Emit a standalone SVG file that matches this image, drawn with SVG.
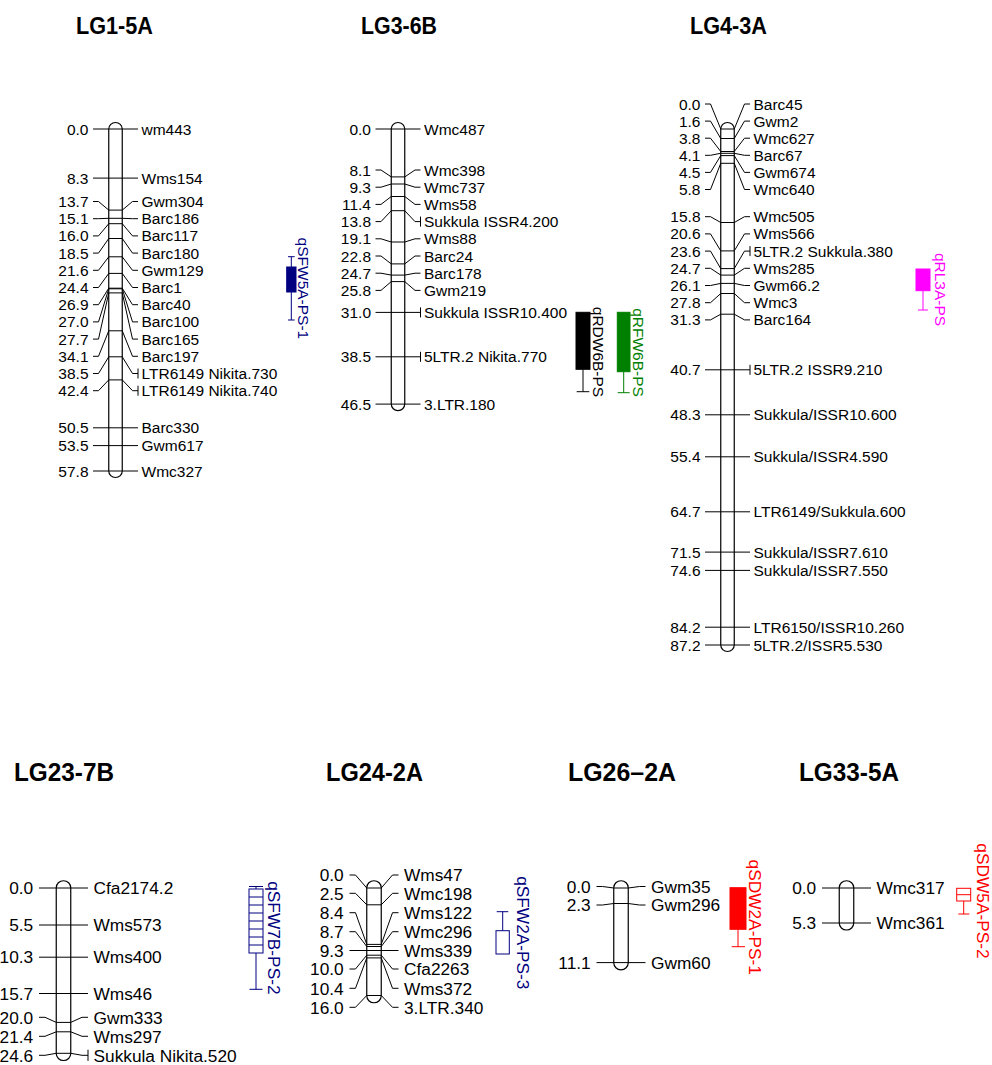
<svg xmlns="http://www.w3.org/2000/svg" width="992" height="1065" viewBox="0 0 992 1065">
<style>
text{font-family:"Liberation Sans",Arial,sans-serif;fill:#000}
.t{font-size:15.5px}
.b{font-size:17.3px}
.n{text-anchor:end}
.ttl{font-weight:bold;text-anchor:middle}
.ln{stroke:#000;stroke-width:1;fill:none}
.chr{stroke:#000;stroke-width:1.2;fill:#fff}
.q{text-anchor:middle}
</style>
<rect width="992" height="1065" fill="#fff"/>

<g id="lg1">
<text class="ttl" x="114.5" y="34.2" font-size="23" textLength="77" lengthAdjust="spacingAndGlyphs">LG1-5A</text>
<rect class="chr" x="108.75" y="122.5" width="13.5" height="355" rx="6.75" ry="6.5"/>
<g class="connectors ln" id="lg1-links">
<path d="M93,129H138M93,178.1H138M93,201.5H98.5L108.75,210.1H122.25L132.5,201.5H138M93,218.7H98.5L108.75,218.3H122.25L132.5,218.7H138M93,235.9H98.5L108.75,223.7H122.25L132.5,235.9H138M93,253.1H98.5L108.75,238.5H122.25L132.5,253.1H138M93,270.3H98.5L108.75,256.8H122.25L132.5,270.3H138M93,287.5H98.5L108.75,273.4H122.25L132.5,287.5H138M93,304.7H98.5L108.75,288.2H122.25L132.5,304.7H138M93,321.9H98.5L108.75,288.8H122.25L132.5,321.9H138M93,339.1H98.5L108.75,292.9H122.25L132.5,339.1H138M93,356.3H98.5L108.75,330.8H122.25L132.5,356.3H138M93,373.5H98.5L108.75,356.8H122.25L132.5,373.5H138M138,368.5V378.5M93,390.7H98.5L108.75,379.9H122.25L132.5,390.7H138M138,385.7V395.7M93,427.8H138M93,445.6H138M93,471H138"/>
</g>
<g class="t n">
<text x="88.5" y="134.5">0.0</text><text x="88.5" y="183.6">8.3</text><text x="88.5" y="207">13.7</text><text x="88.5" y="224.2">15.1</text><text x="88.5" y="241.4">16.0</text><text x="88.5" y="258.6">18.5</text><text x="88.5" y="275.8">21.6</text><text x="88.5" y="293">24.4</text><text x="88.5" y="310.2">26.9</text><text x="88.5" y="327.4">27.0</text><text x="88.5" y="344.6">27.7</text><text x="88.5" y="361.8">34.1</text><text x="88.5" y="379">38.5</text><text x="88.5" y="396.2">42.4</text><text x="88.5" y="433.3">50.5</text><text x="88.5" y="451.1">53.5</text><text x="88.5" y="476.5">57.8</text>
</g>
<g class="t">
<text x="141.5" y="134.5">wm443</text><text x="141.5" y="183.6">Wms154</text><text x="141.5" y="207">Gwm304</text><text x="141.5" y="224.2">Barc186</text><text x="141.5" y="241.4">Barc117</text><text x="141.5" y="258.6">Barc180</text><text x="141.5" y="275.8">Gwm129</text><text x="141.5" y="293">Barc1</text><text x="141.5" y="310.2">Barc40</text><text x="141.5" y="327.4">Barc100</text><text x="141.5" y="344.6">Barc165</text><text x="141.5" y="361.8">Barc197</text><text x="141.5" y="379">LTR6149 Nikita.730</text><text x="141.5" y="396.2">LTR6149 Nikita.740</text><text x="141.5" y="433.3">Barc330</text><text x="141.5" y="451.1">Gwm617</text><text x="141.5" y="476.5">Wmc327</text>
</g>
</g>

<g id="qtl-qSFW5A-PS-1">
<path d="M291.3,256.7V320M288,256.7H294.7M288,320H294.7" stroke="#000080" fill="none"/>
<rect x="286.7" y="267" width="9.3" height="25" fill="#000080" stroke="#000080"/>
<text class="t q" x="298.3" y="288.4" transform="rotate(90 298.3 288.4)" style="fill:#000080">qSFW5A-PS-1</text>
</g>

<g id="lg3">
<text class="ttl" x="399" y="34.2" font-size="23" textLength="76" lengthAdjust="spacingAndGlyphs">LG3-6B</text>
<rect class="chr" x="391.25" y="122.5" width="13.5" height="288.1" rx="6.75" ry="6.5"/>
<g class="connectors ln" id="lg3-links">
<path d="M375.5,129H420.5M375.5,170H381L391.25,176.9H404.75L415,170H420.5M375.5,187.2H381L391.25,184H404.75L415,187.2H420.5M375.5,204.4H381L391.25,196.5H404.75L415,204.4H420.5M375.5,221.6H381L391.25,210.7H404.75L415,221.6H420.5M420.5,216.6V226.6M375.5,238.8H381L391.25,242H404.75L415,238.8H420.5M375.5,256H381L391.25,263.9H404.75L415,256H420.5M375.5,273.2H381L391.25,275.1H404.75L415,273.2H420.5M375.5,290.4H381L391.25,281.6H404.75L415,290.4H420.5M375.5,312.4H420.5M420.5,307.4V317.4M375.5,356.8H420.5M420.5,351.8V361.8M375.5,404.1H420.5"/>
</g>
<g class="t n">
<text x="371" y="134.5">0.0</text><text x="371" y="175.5">8.1</text><text x="371" y="192.7">9.3</text><text x="371" y="209.9">11.4</text><text x="371" y="227.1">13.8</text><text x="371" y="244.3">19.1</text><text x="371" y="261.5">22.8</text><text x="371" y="278.7">24.7</text><text x="371" y="295.9">25.8</text><text x="371" y="317.9">31.0</text><text x="371" y="362.3">38.5</text><text x="371" y="409.6">46.5</text>
</g>
<g class="t">
<text x="424" y="134.5">Wmc487</text><text x="424" y="175.5">Wmc398</text><text x="424" y="192.7">Wmc737</text><text x="424" y="209.9">Wms58</text><text x="424" y="227.1">Sukkula ISSR4.200</text><text x="424" y="244.3">Wms88</text><text x="424" y="261.5">Barc24</text><text x="424" y="278.7">Barc178</text><text x="424" y="295.9">Gwm219</text><text x="424" y="317.9">Sukkula ISSR10.400</text><text x="424" y="362.3">5LTR.2 Nikita.770</text><text x="424" y="409.6">3.LTR.180</text>
</g>
</g>

<g id="qtl-qRDW6B-PS">
<path d="M583,369.3V391.7M576.7,391.7H589.3" stroke="#000" fill="none"/>
<rect x="576" y="312.3" width="14" height="57" fill="#000" stroke="#000"/>
<text class="t q" x="593.3" y="352" transform="rotate(90 593.3 352)">qRDW6B-PS</text>
</g>
<g id="qtl-qRFW6B-PS">
<path d="M623.7,371.7V392.7M617.7,392.7H629.7" stroke="#008000" fill="none"/>
<rect x="617.3" y="312.3" width="12.7" height="59.4" fill="#008000" stroke="#008000"/>
<text class="t q" x="632.7" y="352.5" transform="rotate(90 632.7 352.5)" style="fill:#008000">qRFW6B-PS</text>
</g>

<g id="lg4">
<text class="ttl" x="728.5" y="34.2" font-size="23" textLength="77" lengthAdjust="spacingAndGlyphs">LG4-3A</text>
<rect class="chr" x="720.75" y="122.5" width="13.5" height="529" rx="6.75" ry="6.5"/>
<g class="connectors ln" id="lg4-links">
<path d="M705,104H710.5L720.75,129H734.25L744.5,104H750M705,121.1H710.5L720.75,138.5H734.25L744.5,121.1H750M705,138.2H710.5L720.75,151.5H734.25L744.5,138.2H750M705,155.3H710.5L720.75,153.3H734.25L744.5,155.3H750M705,172.4H710.5L720.75,155.6H734.25L744.5,172.4H750M705,189.5H710.5L720.75,163.3H734.25L744.5,189.5H750M705,216.7H710.5L720.75,222.5H734.25L744.5,216.7H750M705,233.9H710.5L720.75,250.9H734.25L744.5,233.9H750M705,251.1H710.5L720.75,268.6H734.25L744.5,251.1H750M750,246.1V256.1M705,268.3H710.5L720.75,275.1H734.25L744.5,268.3H750M705,285.5H710.5L720.75,283.4H734.25L744.5,285.5H750M705,302.7H710.5L720.75,293.5H734.25L744.5,302.7H750M705,319.9H710.5L720.75,314.2H734.25L744.5,319.9H750M705,369.8H750M750,364.8V374.8M705,414.8H750M705,456.8H750M705,511.8H750M705,552.1H750M705,570.4H750M705,627.2H750M705,645H750"/>
</g>
<g class="t n">
<text x="700.5" y="109.5">0.0</text><text x="700.5" y="126.6">1.6</text><text x="700.5" y="143.7">3.8</text><text x="700.5" y="160.8">4.1</text><text x="700.5" y="177.9">4.5</text><text x="700.5" y="195">5.8</text><text x="700.5" y="222.2">15.8</text><text x="700.5" y="239.4">20.6</text><text x="700.5" y="256.6">23.6</text><text x="700.5" y="273.8">24.7</text><text x="700.5" y="291">26.1</text><text x="700.5" y="308.2">27.8</text><text x="700.5" y="325.4">31.3</text><text x="700.5" y="375.3">40.7</text><text x="700.5" y="420.3">48.3</text><text x="700.5" y="462.3">55.4</text><text x="700.5" y="517.3">64.7</text><text x="700.5" y="557.6">71.5</text><text x="700.5" y="575.9">74.6</text><text x="700.5" y="632.7">84.2</text><text x="700.5" y="650.5">87.2</text>
</g>
<g class="t">
<text x="753.5" y="109.5">Barc45</text><text x="753.5" y="126.6">Gwm2</text><text x="753.5" y="143.7">Wmc627</text><text x="753.5" y="160.8">Barc67</text><text x="753.5" y="177.9">Gwm674</text><text x="753.5" y="195">Wmc640</text><text x="753.5" y="222.2">Wmc505</text><text x="753.5" y="239.4">Wms566</text><text x="753.5" y="256.6">5LTR.2 Sukkula.380</text><text x="753.5" y="273.8">Wms285</text><text x="753.5" y="291">Gwm66.2</text><text x="753.5" y="308.2">Wmc3</text><text x="753.5" y="325.4">Barc164</text><text x="753.5" y="375.3">5LTR.2 ISSR9.210</text><text x="753.5" y="420.3">Sukkula/ISSR10.600</text><text x="753.5" y="462.3">Sukkula/ISSR4.590</text><text x="753.5" y="517.3">LTR6149/Sukkula.600</text><text x="753.5" y="557.6">Sukkula/ISSR7.610</text><text x="753.5" y="575.9">Sukkula/ISSR7.550</text><text x="753.5" y="632.7">LTR6150/ISSR10.260</text><text x="753.5" y="650.5">5LTR.2/ISSR5.530</text>
</g>
</g>

<g id="qtl-qRL3A-PS">
<path d="M923,290.7V310M918,310H928" stroke="#FF00FF" fill="none"/>
<rect x="916" y="269" width="14" height="21.7" fill="#FF00FF" stroke="#FF00FF"/>
<text class="t q" x="935" y="289.5" transform="rotate(90 935 289.5)" style="fill:#FF00FF">qRL3A-PS</text>
</g>

<g id="lg23">
<text class="ttl" x="64" y="781.3" font-size="26" textLength="100" lengthAdjust="spacingAndGlyphs">LG23-7B</text>
<rect class="chr" x="56.25" y="880.75" width="14.5" height="179.75" rx="7.25" ry="7"/>
<g class="connectors ln" id="lg23-links">
<path d="M39,888H88M39,925H88M39,957.2H88M39,993.5H88M39,1017.3H45L56.25,1022.4H70.75L82,1017.3H88M39,1036.3H45L56.25,1031.8H70.75L82,1036.3H88M39,1055.3H45L56.25,1053.3H70.75L82,1055.3H88M88,1049.7V1060.9"/>
</g>
<g class="b n">
<text x="33.2" y="894.2">0.0</text><text x="33.2" y="931.2">5.5</text><text x="33.2" y="963.4">10.3</text><text x="33.2" y="999.7">15.7</text><text x="33.2" y="1023.5">20.0</text><text x="33.2" y="1042.5">21.4</text><text x="33.2" y="1061.5">24.6</text>
</g>
<g class="b">
<text x="93.5" y="894.2">Cfa2174.2</text><text x="93.5" y="931.2">Wms573</text><text x="93.5" y="963.4">Wms400</text><text x="93.5" y="999.7">Wms46</text><text x="93.5" y="1023.5">Gwm333</text><text x="93.5" y="1042.5">Wms297</text><text x="93.5" y="1061.5">Sukkula Nikita.520</text>
</g>
</g>

<g id="qtl-qSFW7B-PS-2">
<path d="M249,886.5H263M256,886.5V889M249,897H263M249,905H263M249,913H263M249,921H263M249,929H263M249,937H263M249,945H263M256,953V989.3M249.5,989.3H262.5" stroke="#000080" fill="none"/>
<rect x="249" y="889" width="14" height="64" fill="none" stroke="#000080"/>
<text class="b q" x="268.3" y="937.9" transform="rotate(90 268.3 937.9)" style="fill:#000080">qSFW7B-PS-2</text>
</g>

<g id="lg24">
<text class="ttl" x="374.5" y="781.3" font-size="26" textLength="97" lengthAdjust="spacingAndGlyphs">LG24-2A</text>
<rect class="chr" x="366.75" y="880.75" width="14.5" height="122" rx="7.25" ry="7"/>
<g class="connectors ln" id="lg24-links">
<path d="M349.5,875H355.5L366.75,888H381.25L392.5,875H398.5M349.5,893.3H355.5L366.75,904.8H381.25L392.5,893.3H398.5M349.5,912.7H355.5L366.75,944.4H381.25L392.5,912.7H398.5M349.5,931.7H355.5L366.75,946.5H381.25L392.5,931.7H398.5M349.5,950.5H398.5M349.5,969H355.5L366.75,955.2H381.25L392.5,969H398.5M349.5,988.3H355.5L366.75,957.9H381.25L392.5,988.3H398.5M349.5,1007.3H355.5L366.75,995.5H381.25L392.5,1007.3H398.5"/>
</g>
<g class="b n">
<text x="343.7" y="881.2">0.0</text><text x="343.7" y="899.5">2.5</text><text x="343.7" y="918.9">8.4</text><text x="343.7" y="937.9">8.7</text><text x="343.7" y="956.7">9.3</text><text x="343.7" y="975.2">10.0</text><text x="343.7" y="994.5">10.4</text><text x="343.7" y="1013.5">16.0</text>
</g>
<g class="b">
<text x="404" y="881.2">Wms47</text><text x="404" y="899.5">Wmc198</text><text x="404" y="918.9">Wms122</text><text x="404" y="937.9">Wmc296</text><text x="404" y="956.7">Wms339</text><text x="404" y="975.2">Cfa2263</text><text x="404" y="994.5">Wms372</text><text x="404" y="1013.5">3.LTR.340</text>
</g>
</g>

<g id="qtl-qSFW2A-PS-3">
<path d="M496.7,911.7H508.3M502.7,911.7V930.7" stroke="#000080" fill="none"/>
<rect x="496" y="930.7" width="13.3" height="23.3" fill="none" stroke="#000080"/>
<text class="b q" x="516.7" y="932.8" transform="rotate(90 516.7 932.8)" style="fill:#000080">qSFW2A-PS-3</text>
</g>

<g id="lg26">
<text class="ttl" x="622" y="781.3" font-size="26" textLength="108" lengthAdjust="spacingAndGlyphs">LG26–2A</text>
<rect class="chr" x="613.75" y="880.75" width="14.5" height="89.1" rx="7.25" ry="7"/>
<g class="connectors ln" id="lg26-links">
<path d="M596.5,886.5H602.5L613.75,888H628.25L639.5,886.5H645.5M596.5,905H602.5L613.75,903.5H628.25L639.5,905H645.5M596.5,962.6H645.5"/>
</g>
<g class="b n">
<text x="590.7" y="892.7">0.0</text><text x="590.7" y="911.2">2.3</text><text x="590.7" y="968.8">11.1</text>
</g>
<g class="b">
<text x="651" y="892.7">Gwm35</text><text x="651" y="911.2">Gwm296</text><text x="651" y="968.8">Gwm60</text>
</g>
</g>

<g id="qtl-qSDW2A-PS-1">
<path d="M738,929.3V946.7M731.7,946.7H745" stroke="#FF0000" fill="none"/>
<rect x="730" y="887.7" width="16" height="41.6" fill="#FF0000" stroke="#FF0000"/>
<text class="b q" x="749.3" y="917.2" transform="rotate(90 749.3 917.2)" style="fill:#FF0000">qSDW2A-PS-1</text>
</g>

<g id="lg33">
<text class="ttl" x="849" y="781.3" font-size="26" textLength="100" lengthAdjust="spacingAndGlyphs">LG33-5A</text>
<rect class="chr" x="839.25" y="880.75" width="14.5" height="49.25" rx="7.25" ry="7"/>
<g class="connectors ln" id="lg33-links">
<path d="M822,888H871M822,923H871"/>
</g>
<g class="b n">
<text x="816.2" y="894.2">0.0</text><text x="816.2" y="929.2">5.3</text>
</g>
<g class="b">
<text x="876.5" y="894.2">Wmc317</text><text x="876.5" y="929.2">Wmc361</text>
</g>
</g>

<g id="qtl-qSDW5A-PS-2">
<path d="M956.7,894.7H970.7M963.7,901V914M958.3,914H969.3" stroke="#FF0000" fill="none"/>
<rect x="956.7" y="888.3" width="14" height="12.7" fill="none" stroke="#FF0000"/>
<text class="b q" x="976.7" y="901" transform="rotate(90 976.7 901)" style="fill:#FF0000">qSDW5A-PS-2</text>
</g>
</svg>
